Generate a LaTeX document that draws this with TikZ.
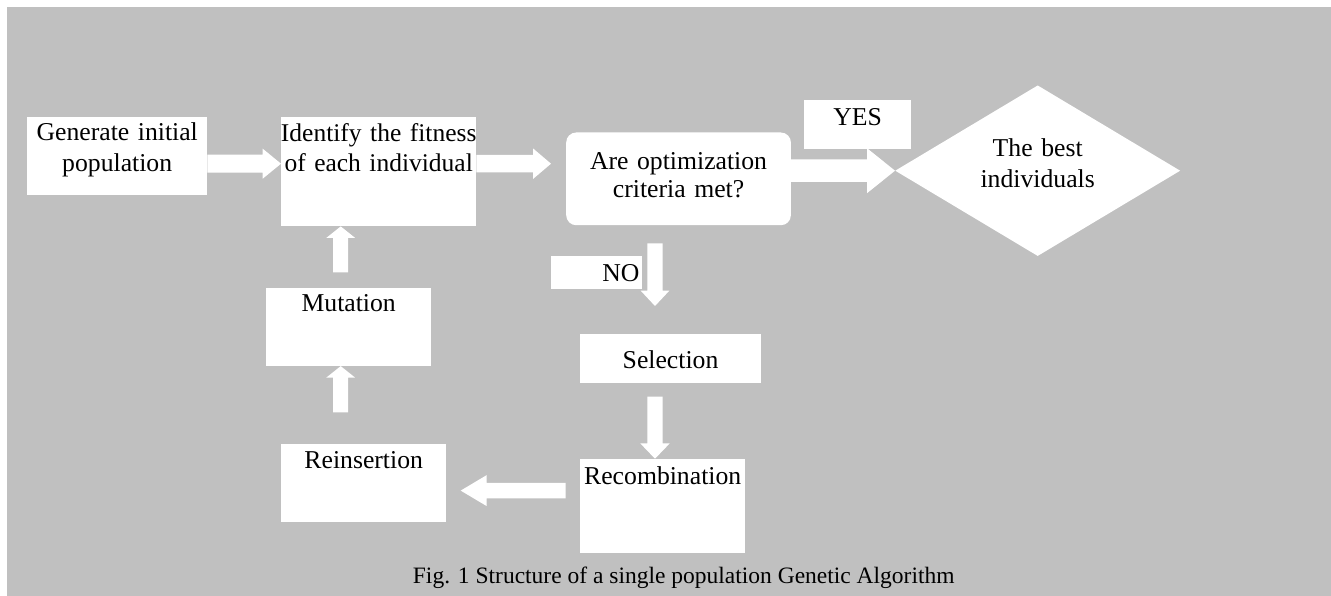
\documentclass[tikz,border=0pt]{standalone}
\usepackage{fontspec}
\setmainfont{Liberation Serif}
\usetikzlibrary{calc,shapes.geometric}
\definecolor{bggray}{RGB}{192,192,192}
% block arrow: #1 start, #2 tip, #3 shaft half width, #4 head half width, #5 head length
\newcommand\blockarrow[5]{%
  \coordinate (hbase) at ($(#2)!#5!(#1)$);
  \fill[white] ($(#1)!#3!90:(#2)$) -- ($(hbase)!#3!90:(#2)$) -- ($(hbase)!#4!90:(#2)$)
    -- (#2) -- ($(hbase)!#4!-90:(#2)$) -- ($(hbase)!#3!-90:(#2)$) -- ($(#1)!#3!-90:(#2)$) -- cycle;}
\begin{document}
\begin{tikzpicture}[x=1pt,y=-1pt,
  box/.style={fill=white, draw=none, inner sep=0pt, align=center, anchor=north west,
    font=\fontsize{25.7}{29.3}\selectfont},
  capt/.style={inner sep=0pt, anchor=base west, font=\fontsize{23.5}{28}\selectfont}]
\useasboundingbox (0,0) rectangle (1331,596);
\fill[white] (0,0) rectangle (1331,596);
\fill[bggray] (6.7,6.7) rectangle (1331,596);

% nodes
\node[box, text width=180pt, text height=23.7pt, text depth=54.3pt,
  font=\fontsize{25.7}{30.3}\selectfont] (gen) at (27,117) {Generate initial\\population};
\node[box, inner xsep=-4pt, text width=203pt, text height=24.7pt, text depth=84.3pt,
  font=\fontsize{25.5}{29.3}\selectfont] (ident) at (281,117)
  {Identify the fitness\\of each individual};
\node[box, rounded corners=10pt, text width=224.7pt, text height=37pt, text depth=55.7pt,
  font=\fontsize{25.7}{28}\selectfont] (dec) at (566,132.3) {Are optimization\\criteria met?};
\node[box, text width=107pt, text height=25.7pt, text depth=23.3pt] (yes) at (804,100) {YES};
\node[diamond, fill=white, inner sep=0pt, aspect=1.67, minimum width=285pt, minimum height=170.6pt,
  align=center, text width=130pt, text height=20pt, text depth=48pt,
  font=\fontsize{25.7}{31}\selectfont] (best) at (1037.7,170.7) {The best\\individuals};
\node[box, align=right, text width=91pt, text height=25.7pt, text depth=7.3pt] (no) at (550.7,256) {NO\kern2.4pt};
\node[box, text width=180.7pt, text height=34.3pt, text depth=14.4pt] (sel) at (580,334) {Selection};
\node[box, text width=165pt, text height=25.3pt, text depth=68.7pt] (rec) at (580,458.7) {Recombination};
\node[box, text width=165pt, text height=24.3pt, text depth=53.4pt] (reins) at (281,444) {Reinsertion};
\node[box, text width=165pt, text height=23.7pt, text depth=54pt] (mut) at (266,288) {Mutation};
\node[capt] (cap) at (412.7,583.3) {Fig. 1 Structure of a single population Genetic Algorithm};

% connectors
\coordinate (a1s) at ([yshift=-7.5pt]gen.east);
\coordinate (a1e) at (a1s -| ident.west);
\blockarrow{a1s}{a1e}{9pt}{15pt}{18.3pt}

\coordinate (a2s) at ([yshift=8pt]ident.east);
\coordinate (a2x) at (a2s -| dec.west);
\coordinate (a2e) at ([xshift=-15pt]a2x);
\blockarrow{a2s}{a2e}{8.8pt}{15.3pt}{18pt}

\coordinate (a3s) at (dec.east |- best.west);
\blockarrow{a3s}{best.west}{11.2pt}{22.5pt}{28pt}

\coordinate (a4s) at (655,243.3);
\coordinate (a4e) at (655,306);
\blockarrow{a4s}{a4e}{7.7pt}{14.3pt}{15.3pt}

\coordinate (a5s) at (655,396.7);
\coordinate (a5e) at (a5s |- rec.north);
\blockarrow{a5s}{a5e}{7.7pt}{14.7pt}{15.3pt}

\coordinate (a6s) at (565.7,490.6);
\coordinate (a6e) at (460.7,490.6);
\blockarrow{a6s}{a6e}{7.8pt}{15.5pt}{26pt}

\coordinate (a7s) at (340.7,412.3);
\coordinate (a7e) at (a7s |- mut.south);
\blockarrow{a7s}{a7e}{7.5pt}{14.5pt}{11.6pt}

\coordinate (a8s) at (340.7,272.3);
\coordinate (a8e) at (a8s |- ident.south);
\blockarrow{a8s}{a8e}{7.5pt}{14.5pt}{11.6pt}
\end{tikzpicture}
\end{document}
